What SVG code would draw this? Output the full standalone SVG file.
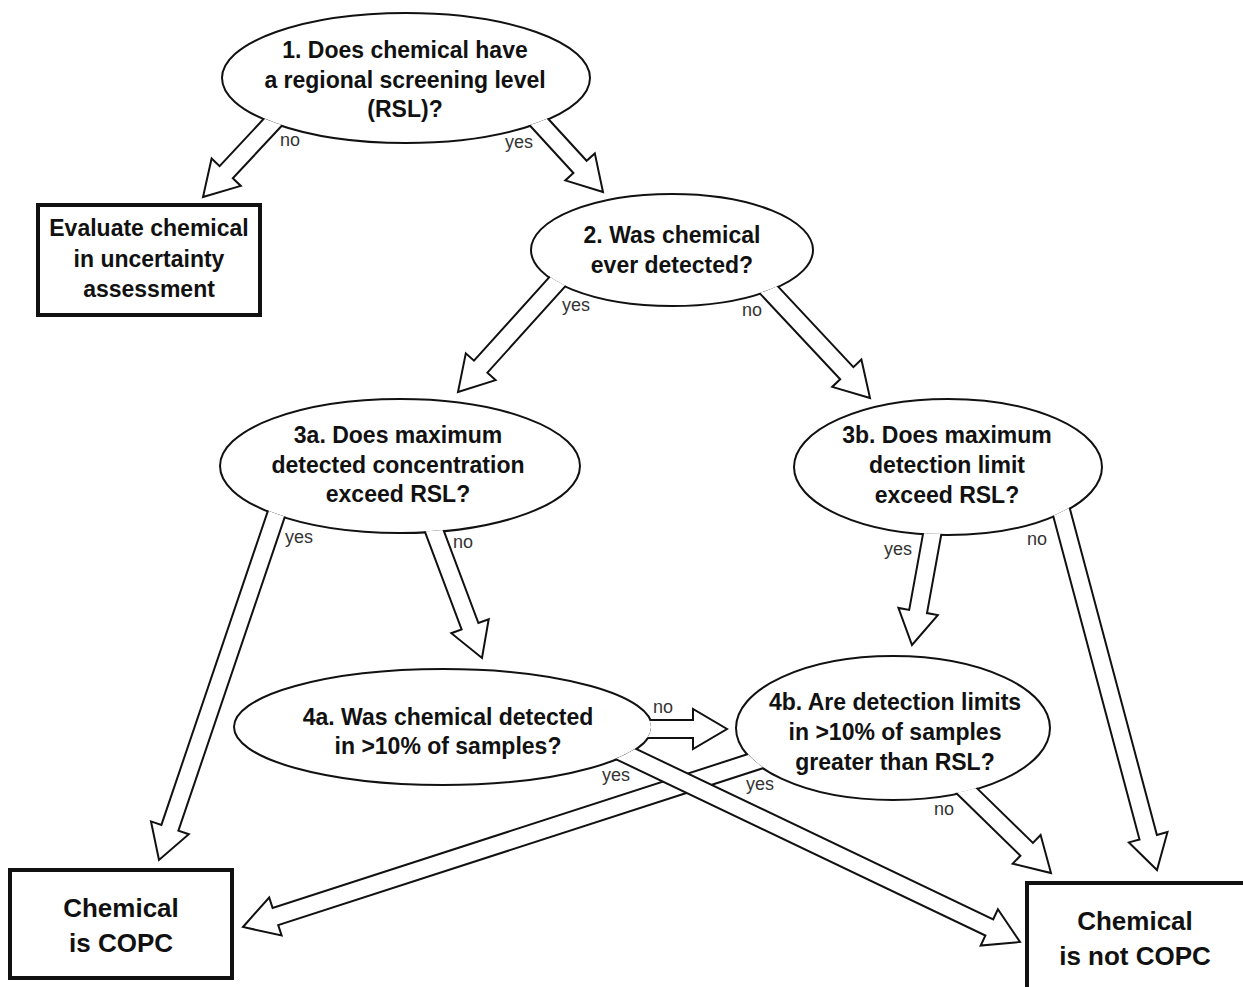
<svg xmlns="http://www.w3.org/2000/svg" width="1243" height="987" viewBox="0 0 1243 987">
<style>
.node ellipse{fill:#fff;stroke:#111;stroke-width:2}
.box rect{fill:#fff;stroke:#111;stroke-width:4}
.t{font-family:"Liberation Sans",Arial,sans-serif;font-weight:bold;font-size:23px;text-anchor:middle;fill:#111}
.tb{font-size:26px}
.arr{fill:#fff;stroke:#111;stroke-width:2;stroke-linejoin:miter}
.lbl{font-family:"Liberation Sans",Arial,sans-serif;font-size:18px;fill:#333}
</style>
<defs>
<clipPath id="cE1"><path clip-rule="evenodd" d="M0 0H1243V987H0Z M223 78 A183 64 0 1 0 589 78 A183 64 0 1 0 223 78Z"/></clipPath>
<clipPath id="cE2"><path clip-rule="evenodd" d="M0 0H1243V987H0Z M532 250 A140 55 0 1 0 812 250 A140 55 0 1 0 532 250Z"/></clipPath>
<clipPath id="cE3a"><path clip-rule="evenodd" d="M0 0H1243V987H0Z M221 466 A179 66 0 1 0 579 466 A179 66 0 1 0 221 466Z"/></clipPath>
<clipPath id="cE3b"><path clip-rule="evenodd" d="M0 0H1243V987H0Z M795 467 A153 67 0 1 0 1101 467 A153 67 0 1 0 795 467Z"/></clipPath>
<clipPath id="cE4a"><path clip-rule="evenodd" d="M0 0H1243V987H0Z M235 727 A208 57 0 1 0 651 727 A208 57 0 1 0 235 727Z"/></clipPath>
<clipPath id="cE4b"><path clip-rule="evenodd" d="M0 0H1243V987H0Z M737 728 A156 71 0 1 0 1049 728 A156 71 0 1 0 737 728Z"/></clipPath>
</defs>
<rect width="1243" height="987" fill="#fff"/>

<g id="q1" class="node">
<ellipse cx="406" cy="78" rx="184" ry="65"/>
<text class="t" x="405" y="58">1. Does chemical have</text>
<text class="t" x="405" y="88">a regional screening level</text>
<text class="t" x="405" y="117">(RSL)?</text>
</g>
<g id="evaluate" class="box">
<rect x="38" y="205" width="222" height="110"/>
<text class="t" x="149" y="236">Evaluate chemical</text>
<text class="t" x="149" y="267">in uncertainty</text>
<text class="t" x="149" y="297">assessment</text>
</g>
<g id="q2" class="node">
<ellipse cx="672" cy="250" rx="141" ry="56"/>
<text class="t" x="672" y="243">2. Was chemical</text>
<text class="t" x="672" y="273">ever detected?</text>
</g>
<g id="q3a" class="node">
<ellipse cx="400" cy="466" rx="180" ry="67"/>
<text class="t" x="398" y="443">3a. Does maximum</text>
<text class="t" x="398" y="473">detected concentration</text>
<text class="t" x="398" y="502">exceed RSL?</text>
</g>
<g id="q3b" class="node">
<ellipse cx="948" cy="467" rx="154" ry="68"/>
<text class="t" x="947" y="443">3b. Does maximum</text>
<text class="t" x="947" y="473">detection limit</text>
<text class="t" x="947" y="503">exceed RSL?</text>
</g>
<g id="q4a" class="node">
<ellipse cx="443" cy="727" rx="209" ry="58"/>
<text class="t" x="448" y="725">4a. Was chemical detected</text>
<text class="t" x="448" y="754">in &gt;10% of samples?</text>
</g>
<g id="q4b" class="node">
<ellipse cx="893" cy="728" rx="157" ry="72"/>
<text class="t" x="895" y="710">4b. Are detection limits</text>
<text class="t" x="895" y="740">in &gt;10% of samples</text>
<text class="t" x="895" y="770">greater than RSL?</text>
</g>
<g id="copc" class="box">
<rect x="10" y="870" width="222" height="108"/>
<text class="t tb" x="121" y="917">Chemical</text>
<text class="t tb" x="121" y="952">is COPC</text>
</g>
<g id="notcopc" class="box">
<rect x="1027" y="883" width="260" height="150"/>
<text class="t tb" x="1135" y="930">Chemical</text>
<text class="t tb" x="1135" y="965">is not COPC</text>
</g>

<g id="connectors">
<path class="arr" clip-path="url(#cE1)" d="M274.2 107.6 L219.6 166.1 L211.6 158.5 L203 197 L240.8 185.9 L232.8 178.3 L287.4 119.8"/>
<path class="arr" clip-path="url(#cE1)" d="M524.6 119.7 L573.4 173.0 L565.3 180.4 L603 192 L594.8 153.4 L586.6 160.8 L537.8 107.5"/>
<path class="arr" clip-path="url(#cE2)" d="M557.0 268.6 L474.0 360.7 L465.8 353.3 L458 392 L495.6 380.1 L487.4 372.7 L570.4 280.6"/>
<path class="arr" clip-path="url(#cE2)" d="M755.6 288.9 L840.2 379.3 L832.2 386.9 L870 398 L861.4 359.5 L853.4 367.1 L768.8 276.6"/>
<path class="arr" clip-path="url(#cE3a)" d="M270.7 502.6 L161.4 824.9 L151.0 821.4 L159 860 L188.8 834.2 L178.4 830.7 L287.7 508.4"/>
<path class="arr" clip-path="url(#cE3a)" d="M423.1 526.8 L461.6 629.4 L451.3 633.2 L482 658 L488.7 619.2 L478.4 623.0 L439.9 520.4"/>
<path class="arr" clip-path="url(#cE3b)" d="M924.9 523.6 L909.2 609.9 L898.4 607.9 L912 645 L937.8 615.1 L927.0 613.1 L942.7 526.8"/>
<path class="arr" clip-path="url(#cE3b)" d="M1050.7 506.6 L1139.5 839.5 L1128.9 842.4 L1157 870 L1167.5 832.0 L1156.9 834.9 L1068.1 502.0"/>
<path class="arr" clip-path="url(#cE4a)" d="M641 738 L693 738 L693 749 L727 729 L693 709 L693 720 L641 720"/>
<path class="arr" clip-path="url(#cE4b)" d="M759.7 750.3 L272.6 908.0 L269.2 897.5 L243 927 L281.6 935.5 L278.2 925.1 L765.3 767.5"/>
<path class="arr" clip-path="url(#cE4b)" d="M954.6 791.5 L1020.4 855.7 L1012.7 863.6 L1051 873 L1040.6 835.0 L1032.9 842.9 L967.1 778.6"/>
<path class="arr" clip-path="url(#cE4a)" d="M615.1 758.8 L985.4 935.5 L980.7 945.5 L1020 942 L997.9 909.3 L993.2 919.3 L622.9 742.6"/>
<text class="lbl" x="280" y="146">no</text>
<text class="lbl" x="505" y="148">yes</text>
<text class="lbl" x="562" y="311">yes</text>
<text class="lbl" x="742" y="316">no</text>
<text class="lbl" x="285" y="543">yes</text>
<text class="lbl" x="453" y="548">no</text>
<text class="lbl" x="884" y="555">yes</text>
<text class="lbl" x="1027" y="545">no</text>
<text class="lbl" x="653" y="713">no</text>
<text class="lbl" x="602" y="781">yes</text>
<text class="lbl" x="746" y="790">yes</text>
<text class="lbl" x="934" y="815">no</text>
</g>
</svg>
